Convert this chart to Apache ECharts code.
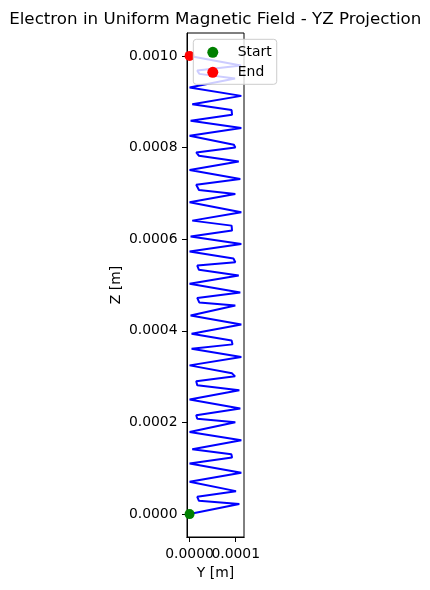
<!DOCTYPE html>
<html>
<head>
<meta charset="utf-8">
<script src="https://cdn.jsdelivr.net/npm/echarts@6/dist/echarts.min.js"></script>
<style>
html,body{margin:0;padding:0;background:#fff;}
#chart{width:430px;height:590px;}
</style>
</head>
<body>
<div id="chart"></div>
<script>
// Trajectory vertices, in micrometres
const yMicron = [0,107.8,20.3,16.6,100.6,0,112.1,0,92.0,90.5,5.8,112.1,0,99.1,16.6,14.4,109.9,0,107.8,16.6,14.4,98.5,92.0,0,112.1,4.3,93.0,91.0,4.3,112.1,2.2,99.1,20.9,16.6,109.9,0,106.5,20.3,16.6,99.1,95.0,0,112.1,2.2,92.0,91.0,5.8,112.1,0,99.1,20.3,14.4,109.9,0,106.5,20.3,14.4,99.1,96.0,0,112.1,2.2,92.0,91.0,5.8,112.1,0,98.5,20.9,16.6,111.4,0];
const zMicron = [0,21.8,29.0,37.7,50.1,70.4,90.0,110.5,123.5,130.7,141.6,161.2,179.3,200.4,208.1,215.7,230.3,249.9,270.1,281.0,289.8,300.6,307.2,324.6,342.7,361.0,370.4,379.1,393.7,413.9,433.5,455.3,461.9,471.7,483.6,502.6,520.7,533.1,542.5,549.7,557.7,573.0,589.3,605.7,618.7,629.6,640.5,658.6,680.4,698.7,707.4,718.9,731.3,751.0,769.7,782.1,789.3,800.2,806.1,825.7,842.5,858.4,871.4,881.7,894.7,912.8,930.9,950.9,960.8,968.4,979.3,1000.0];
const startPoint = [0, 0];
const endPoint = [0, 0.001];
const yTicksA = [0.0001];
const yTicksB = [0];
const zTicks = [0, 0.0002, 0.0004, 0.0006, 0.0008, 0.0010];

const trajectory = yMicron.map((y, i) => [y * 1e-6, zMicron[i] * 1e-6]);

const FONT = 'DejaVu Sans';
const X_MIN = -5.6e-6, X_MAX = 117.9e-6;

function makeX(ticks, withName) {
  return {
    type: 'value', position: 'bottom', offset: 0,
    min: X_MIN, max: X_MAX,
    name: withName ? 'Y [m]' : '', nameLocation: 'middle', nameGap: 28,
    nameTextStyle: {fontFamily: FONT, fontSize: 13.9, color: '#000'},
    splitLine: {show: false},
    axisLine: {show: true, onZero: false, lineStyle: {color: '#000', width: 1}},
    axisTick: {show: true, length: 5, inside: false, customValues: ticks, lineStyle: {color: '#000'}},
    axisLabel: {show: true, margin: 10, customValues: ticks, hideOverlap: false,
      fontFamily: FONT, fontSize: 13.9, color: '#000',
      formatter: v => Number(v).toFixed(4)}
  };
}

const chart = echarts.init(document.getElementById('chart'), null, {renderer: 'canvas'});
chart.setOption({
  animation: false,
  backgroundColor: '#ffffff',
  textStyle: {fontFamily: FONT, color: '#000'},
  title: {
    text: 'Electron in Uniform Magnetic Field - YZ Projection',
    left: 210.3, top: 6, textAlign: 'center',
    textStyle: {fontFamily: FONT, fontSize: 16.7, fontWeight: 'normal', color: '#000'}
  },
  grid: {
    left: 187, top: 33, right: 186, bottom: 53,
    show: true, borderColor: '#000', borderWidth: 1, backgroundColor: 'transparent'
  },
  legend: {
    orient: 'vertical',
    left: 193.3, top: 39.3,
    padding: [6, 5, 5, 14],
    itemWidth: 34, itemHeight: 11, itemGap: 6,
    backgroundColor: 'rgba(255,255,255,0.8)',
    borderColor: '#cccccc', borderWidth: 1, borderRadius: 3,
    textStyle: {fontFamily: FONT, fontSize: 13.9, color: '#000', lineHeight: 14, padding: [0,0,0,3]},
    data: [{name: 'Start', icon: 'circle'}, {name: 'End', icon: 'circle'}]
  },
  xAxis: [makeX(yTicksA, true), makeX(yTicksB, false)],
  yAxis: {
    type: 'value',
    min: -0.00005, max: 0.00105,
    name: 'Z [m]', nameLocation: 'middle', nameGap: 64, nameRotate: 90,
    nameTextStyle: {fontFamily: FONT, fontSize: 13.9, color: '#000'},
    splitLine: {show: false},
    axisLine: {show: true, onZero: false, lineStyle: {color: '#000', width: 1}},
    axisTick: {show: true, length: 5, inside: false, customValues: zTicks, lineStyle: {color: '#000'}},
    axisLabel: {show: true, margin: 9.5, customValues: zTicks,
      fontFamily: FONT, fontSize: 13.9, color: '#000',
      formatter: v => Number(v).toFixed(4)}
  },
  series: [
    {
      name: 'trajectory', type: 'line', data: trajectory, xAxisIndex: 0,
      showSymbol: false, symbol: 'none', z: 2,
      lineStyle: {color: '#0000ff', width: 2},
      itemStyle: {color: '#0000ff'}
    },
    {
      name: 'Start', type: 'scatter', data: [startPoint], xAxisIndex: 0, symbol: 'circle', symbolSize: 10, z: 3,
      itemStyle: {color: '#008000', opacity: 1}
    },
    {
      name: 'End', type: 'scatter', data: [endPoint], xAxisIndex: 0, symbol: 'circle', symbolSize: 10, z: 3,
      itemStyle: {color: '#ff0000', opacity: 1}
    }
  ]
});
</script>
</body>
</html>
